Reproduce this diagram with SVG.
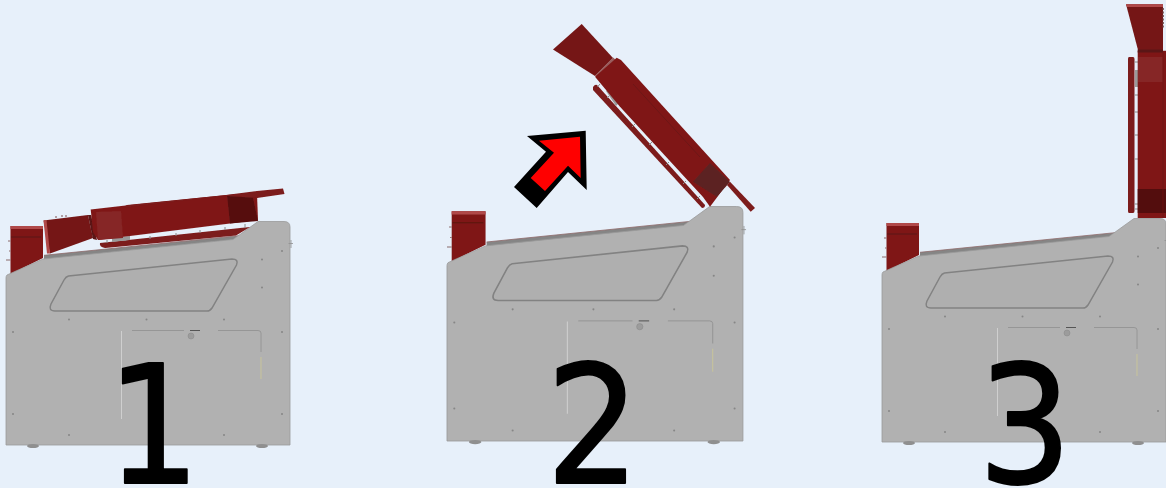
<svg xmlns="http://www.w3.org/2000/svg" width="1166" height="488" viewBox="0 0 1166 488">
<style>
.digit{font-family:"DejaVu Sans",sans-serif;font-size:164px;fill:#000;stroke:#000;stroke-width:2;stroke-linejoin:round}
.red{fill:#7f1918}.dark{fill:#561010}.fun{fill:#741616}.lite{fill:#862525}.hi{fill:#b04a4a}.bar{fill:#7c1a1a}
.tick{stroke:#8a8a8a;stroke-width:1;fill:none}
</style>
<defs>
<filter id="soft" x="-5%" y="-5%" width="110%" height="110%"><feGaussianBlur stdDeviation="0.5"/></filter>
<g id="machine">
<path class="red" d="M10.500 226H43V258L10.500 274Z"/>
<path class="hi" d="M10.500 226H43V229H10.500Z"/>
<path d="M11 237H41" stroke="#5a1010" stroke-width="1"/>
<path d="M8 241H10.500M6 260H10.500M9 251H10.500" stroke="#8a6a6a" stroke-width="1"/>
<path d="M44 255.300 239 235.700 233 240 44 260Z" fill="#858585"/>
<path d="M44 255.300 239 235.700" stroke="#8e6a6a" stroke-width=".8"/>
<path d="M7 275 43 259 233 239.500 258 221.500H284Q290 221.500 290 227V445H6V278Q6 276 7 275Z" fill="#b1b1b1" stroke="#9a9a9a" stroke-width=".8"/>
<path d="M68.500 276 232 259Q239 259 236.500 265L212 308Q210 311 207 311H55Q48 311 51 304L64 280Q66 276.500 68.500 276Z" fill="#afafaf" stroke="#828282" stroke-width="1.500"/>
<g fill="#868686">
<circle cx="69" cy="319.500" r="1"/><circle cx="146.500" cy="319.500" r="1"/><circle cx="224" cy="319.500" r="1"/>
<circle cx="262" cy="259.500" r="1"/><circle cx="282" cy="251" r="1"/><circle cx="262" cy="287.500" r="1"/>
<circle cx="13" cy="332" r="1"/><circle cx="282" cy="332" r="1"/><circle cx="13" cy="414" r="1"/><circle cx="282" cy="414" r="1"/>
<circle cx="69" cy="435" r="1"/><circle cx="224" cy="435" r="1"/>
</g>
<path d="M291 240V248M288.500 243.500H293" stroke="#8f8f8f" stroke-width=".8" fill="none"/>
<path d="M121.500 331V419" stroke="#cfcfcf" stroke-width="1" fill="none"/>
<path d="M132 330.500H184M218 330.500H258Q261 330.500 261 333V352" stroke="#8f8f8f" stroke-width=".8" fill="none"/>
<path d="M190 330.500H200" stroke="#555" stroke-width="1" fill="none"/>
<path d="M261 357V379" stroke="#c8c49a" stroke-width="1" fill="none"/>
<circle cx="191" cy="336" r="3" fill="#9c9c9c" stroke="#888" stroke-width=".5"/>
<ellipse cx="33" cy="446" rx="6" ry="2" fill="#8f8f8f"/>
<ellipse cx="262" cy="446" rx="6" ry="2" fill="#8f8f8f"/>
</g>
</defs>
<rect width="1166" height="488" fill="#e7f0fa"/>

<g id="machine-1" filter="url(#soft)">
<use href="#machine"/>
<path class="bar" d="M100 243 245 227.500 250 227 236 235.500 105 248Q99 247 100 243Z"/>
<path class="tick" d="M107 240V243M125 239V241M150 236V239M176 233V236M200 230V233M225 227V230M245 224V228"/>
<path d="M112 238 130 236V240L112 242Z" fill="#9a9a9a"/>
<path class="fun" d="M43.500 220.500 88 215 93 238 50 253.500Z"/>
<path class="hi" d="M43.500 220.500 46.500 220 50 253.500 47 253.500Z"/>
<path d="M56 218V216M62 217V215M66 217V215" stroke="#7a5050" stroke-width="1"/>
<path d="M88 215 91 215 97 240 93 239Z" fill="#5a1212"/>
<path class="red" d="M90.700 209.500 130 205 227 195 257 194 258 220 230 223.500 98 240 93 232Z"/>
<path class="lite" d="M96 212 121 211 123 238 98 240Z"/>
<path class="dark" d="M227 195 252 193 258 221 230 223.500Z"/>
<path class="bar" d="M127 205 226 195 257 191 283 188.500 284.500 194 257 198 227 196 122 208Z"/>
</g>

<g id="machine-2" filter="url(#soft)">
<use href="#machine" transform="translate(447 441) scale(1.042 1.049) translate(-6 -445)"/>
<path class="bar" d="M593 87Q595 84 597 85L705 205Q705 208 702 208L593 90Z"/>
<path class="tick" d="M600 84 597.500 87M610 95 607 98M635 124 632 127M652 142 649 145M669 162 666 165M686 181 683 184M700 196 697 199"/>
<path d="M606 91 610 88 620 102 616 106Z" fill="#9a9a9a"/>
<path class="fun" d="M581.700 24 613 58 595 76 553 49.500Z"/>
<path d="M595 75.500 613 57.500 616 60 598 78Z" fill="#9a5d5d"/>
<path class="red" d="M616.700 57.700 621 60 730 180 710 206.700 703 197 620 106.700 595 76.700Z"/>
<path d="M633 84 700 157" stroke="#6d1414" stroke-width="1"/>
<path d="M710 163 730 182 716.700 196.700 693 181.700Z" fill="#5c2222"/>
<path class="bar" d="M730 181.700 755 208 750.700 211.700 727 185Z"/>
</g>

<g id="machine-3" filter="url(#soft)">
<use href="#machine" transform="translate(876 -3)"/>
<path class="bar" d="M1129 57H1133Q1134.500 57 1134.500 59V211Q1134.500 213 1133 213H1129Q1128 213 1128 211V59Q1128 57 1129 57Z"/>
<path class="tick" d="M1134.500 62H1138M1134.500 95H1138M1134.500 112H1138M1134.500 135H1138M1134.500 159H1138M1134.500 204H1138M1134.500 209H1138"/>
<path d="M1135 70H1138V87H1135Z" fill="#9a9a9a"/>
<path class="fun" d="M1126 4.300H1163V50H1138Z"/>
<path class="hi" d="M1126 4.300H1163V7H1127Z"/>
<path d="M1163 8V28" stroke="#6a3a3a" stroke-width="1.500" stroke-dasharray="2 1.500"/>
<path class="red" d="M1137.700 50.700H1166V218H1137.700Z"/>
<path d="M1137.700 49.500H1163V52.500H1137.700Z" fill="#5a1212"/>
<path class="lite" d="M1138 57H1163V82H1138Z"/>
<path d="M1137.700 189H1166V213H1137.700Z" fill="#530d0c"/>
<path d="M1163 52V218" stroke="#6d1414" stroke-width=".8"/>
</g>

<g id="arrow">
<path d="M585.700 130.700 527 136 546 151.700 514 187 536.700 208 568 172 586.700 190Z" fill="#000"/>
<path d="M580 136.700 539 140.700 554 152.700 530.700 178 545 191 568 165.700 580.700 178Z" fill="#f00"/>
</g>

<g id="labels">
<text class="digit" transform="translate(106.400 483) scale(.9 1)">1</text>
<text class="digit" transform="translate(546 483) scale(.9 1)">2</text>
<text class="digit" transform="translate(978 483) scale(.9 1)">3</text>
</g>
</svg>
